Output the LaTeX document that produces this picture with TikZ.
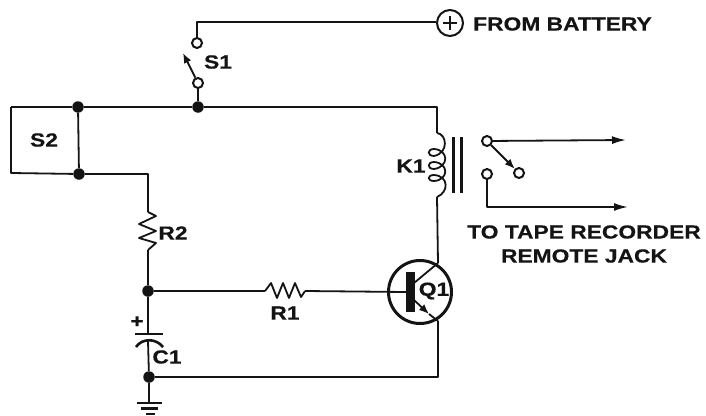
\documentclass[tikz,border=0pt]{standalone}
\usepackage{fontspec}
\setmainfont{Liberation Sans}[FakeStretch=1.2,BoldFeatures={FakeStretch=1.2,FakeBold=0.4}]
\usetikzlibrary{arrows.meta,calc}
\definecolor{ink}{gray}{0.08}
\tikzset{
 wire/.style={line width=1.8pt,draw=ink,line join=round},
 dotj/.style={circle,fill=ink,inner sep=0pt,minimum size=11.5pt},
 term/.style={circle,draw=ink,line width=2pt,fill=white,inner sep=0pt,minimum size=10pt},
 lab/.style={text=ink,font=\bfseries\fontsize{19}{24}\selectfont,inner sep=0pt},
 arr/.style={-{Latex[length=14pt,width=8pt]}},
 arrs/.style={-{Latex[length=10pt,width=8pt]}},
}
\begin{document}
\begin{tikzpicture}[x=1pt,y=-1pt]
\useasboundingbox (0,0) rectangle (706,415);
% junctions and terminals
\node[dotj] (j1) at (78,107) {};
\node[dotj] (j2) at (198,107) {};
\node[dotj] (j3) at (79,174) {};
\node[dotj] (j4) at (148,291) {};
\node[dotj] (j5) at (149,377) {};
\node[term] (s1a) at (197,43) {};
\node[term] (s1b) at (198,83) {};
\node[circle,draw=ink,line width=2pt,inner sep=0pt,minimum size=26pt] (bat) at (450,23) {};
\node[term] (ka) at (487,141) {};
\node[term] (kb) at (519,173) {};
\node[term] (kc) at (487,174) {};
\coordinate (o1) at (626,140);
\coordinate (o2) at (628,207);
\coordinate (coilt) at (437,133);
\coordinate (coilb) at (437,197);
\coordinate (rt) at (148,212);
\coordinate (rb) at (148,250);
\coordinate (r1l) at (265,291);
\coordinate (r1r) at (305,291);
\coordinate (capt) at (148,334);
\coordinate (capb) at (148,341);
\coordinate (gnd) at (149,403);
\coordinate (tl) at (11,107);
\coordinate (bl) at (11,173);
\coordinate (topc) at (197,22);
\node[circle,draw=ink,line width=3pt,inner sep=0pt,minimum size=63pt] (q) at (420,292) {};
\coordinate (qb) at (406,292);
\coordinate (qc) at (438,263);
\coordinate (qe) at (438,321);
% wires
\draw[wire] (tl) -- (j1) -- (j2) -- (437,107) -- (coilt);
\draw[wire] (tl) -- (bl) -- (j3);
\draw[wire] (j1) -- (j3) -- (148,174) -- (rt);
\draw[wire] (rb) -- (j4) -- (r1l);
\draw[wire] (r1r) -- (qb);
\draw[wire] (j4) -- (capt);
\draw[wire] (capb) -- (j5) -- (gnd);
\draw[wire] (j5) -- (438,377) -- (qe);
\draw[wire] (qc) -- (coilb);
\draw[wire] (s1a) -- (topc) -- (bat.west |- topc);
\draw[wire] (s1b) -- (j2);
\draw[wire,arrs] (s1b) -- (183,53);
\draw[wire] (450,16) -- (450,30) (443,23) -- (457,23);
% resistors
\draw[wire] (rt) -- (156,216) -- (139,224) -- (156,231) -- (139,238) -- (156,243) -- (rb);
\draw[wire] (r1l) -- (271,283) -- (277,298) -- (283,283) -- (289,298) -- (295,283) -- (301,297) -- (r1r);
% coil
\draw[wire] (coilt) .. controls (447,134) and (449,153) .. (434,156) .. controls (427,156) and (427,149) .. (434,149)
 .. controls (449,150) and (449,167) .. (434,169) .. controls (427,169) and (427,162) .. (434,162)
 .. controls (449,163) and (449,180) .. (434,181) .. controls (427,181) and (427,175) .. (434,175)
 .. controls (449,176) and (449,192) .. (coilb);
\draw[line width=3pt,draw=ink] (453,137) -- (453,193);
\draw[line width=3pt,draw=ink] (461,137) -- (461,193);
% relay contacts
\draw[wire,arr] (ka) -- (o1);
\draw[wire,arrs] (ka) -- (kb);
\draw[wire,arr] (kc) -- (487,207) -- (o2);
% transistor
\draw[line width=9pt,draw=ink] (410,272) -- (410,312);
\draw[wire] (414,283) -- (qc);
\draw[wire,arrs] (414,300) -- (429,314);
\draw[wire] (429,314) -- (qe);
% capacitor
\draw[line width=2.4pt,draw=ink] (135,334) -- (163,334);
\draw[line width=2.6pt,draw=ink] (136,347) .. controls (142,338) and (156,338) .. (163,347);
% ground
\draw[line width=2.4pt,draw=ink] (137,403) -- (162,403);
\draw[line width=2.2pt,draw=ink] (141,408.5) -- (158,408.5);
\draw[line width=1.8pt,draw=ink] (146,414) -- (155,414);
% labels
\node[lab,anchor=west] (t1) at (473,24) {FROM BATTERY};
\node[lab] (ls1) at (218,62) {S1};
\node[lab] (ls2) at (44,140) {S2};
\node[lab] (lk1) at (411,166) {K1};
\node[lab] (lr2) at (173,233) {R2};
\node[lab] (lr1) at (285,313) {R1};
\node[lab] (lq1) at (434,291) {Q1};
\node[lab] (lc1) at (167,357) {C1};
\node[lab] (lp) at (137,322) {+};
\node[lab,align=center] (t2) at (584,244) {TO TAPE RECORDER\\REMOTE JACK};
\end{tikzpicture}
\end{document}
